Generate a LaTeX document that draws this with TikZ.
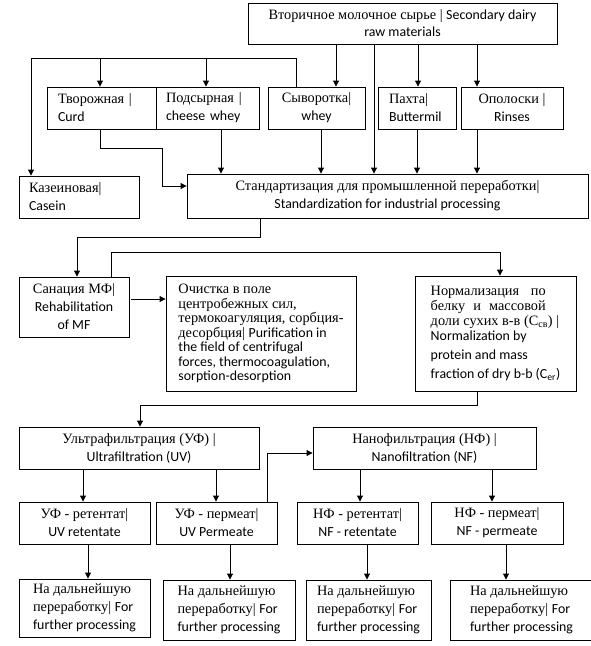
\documentclass[tikz,border=0pt]{standalone}
\usepackage{fontspec}
\setmainfont{Liberation Serif}
\newfontfamily\cb[Scale=0.97]{Carlito}
\usetikzlibrary{arrows.meta}
\tikzset{
  box/.style={draw, line width=0.9pt, inner sep=0pt, font=\fontsize{14.3}{18}\selectfont},
  cbox/.style={box, align=center},
  lbox/.style={box, align=left},
  arr/.style={line width=0.9pt, -{Triangle[length=6pt,width=6pt]}},
  ln/.style={line width=0.9pt}
}
\begin{document}
\begin{tikzpicture}[x=1pt,y=-1pt]
\useasboundingbox (0,0) rectangle (591,646);
% level 0
\node[cbox, minimum width=309, minimum height=41] (top) at (402.5,23.5)
  {Вторичное молочное сырье | {\cb Secondary dairy}\\[-1pt]{\cb raw materials}};
% level 1
\node[lbox, minimum width=109, minimum height=42, text width=87] (curd) at (101.5,108)
  {Творожная |\\{\cb Curd}};
\node[lbox, minimum width=103, minimum height=42, text width=83] (cheese) at (207.5,108)
  {Подсырная |\\{\cb cheese whey}};
\node[cbox, minimum width=97, minimum height=42] (whey) at (316.5,108)
  {Сыворотка|\\{\cb whey}};
\node[lbox, minimum width=78, minimum height=42, text width=56] (butter) at (417,108)
  {Пахта|\\{\cb Buttermil}};
\node[cbox, minimum width=102, minimum height=42] (rinses) at (512,108)
  {Ополоски |\\{\cb Rinses}};
% level 2
\node[lbox, minimum width=120, minimum height=42, text width=100] (casein) at (79,197)
  {Казеиновая|\\{\cb Casein}};
\node[cbox, minimum width=401, minimum height=44] (stand) at (387.5,196)
  {Стандартизация для промышленной переработки|\\{\cb Standardization for industrial processing}};
% level 3
\node[cbox, minimum width=110, minimum height=60] (san) at (74,307)
  {Санация МФ|\\{\cb Rehabilitation}\\{\cb of MF}};
\node[lbox, minimum width=190, minimum height=115,
  font=\fontsize{14.3}{14.5}\selectfont] (clean) at (261,333.5)
  {Очистка в поле\\центробежных сил,\\термокоагуляция, сорбция-\\десорбция| {\cb Purification in}\\{\cb the field of centrifugal}\\{\cb forces, thermocoagulation,}\\{\cb sorption-desorption}};
\node[lbox, minimum width=161, minimum height=115,
  font=\fontsize{14.3}{15}\selectfont] (norm) at (495.5,333.5)
  {\makebox[115pt][s]{Нормализация по}\\\makebox[115pt][s]{белку и массовой}\\доли сухих в-в (C\textsubscript{св}) |\\{\cb Normalization by}\\[4pt]{\cb protein and mass}\\[4pt]{\cb fraction of dry b-b (C\textsubscript{er})}};
% level 4
\node[cbox, minimum width=240, minimum height=42] (uf) at (139,448)
  {Ультрафильтрация (УФ) |\\{\cb Ultrafiltration (UV)}};
\node[cbox, minimum width=223, minimum height=42] (nf) at (424.5,448)
  {Нанофильтрация (НФ) |\\{\cb Nanofiltration (NF)}};
% level 5
\node[cbox, minimum width=131, minimum height=42] (uvret) at (84.5,523)
  {УФ - ретентат|\\{\cb UV retentate}};
\node[cbox, minimum width=121, minimum height=42] (uvperm) at (216.5,523)
  {УФ - пермеат|\\{\cb UV Permeate}};
\node[cbox, minimum width=121, minimum height=42] (nfret) at (357.5,523)
  {НФ - ретентат|\\{\cb NF - retentate}};
\node[cbox, minimum width=132, minimum height=42] (nfperm) at (497,523)
  {НФ - пермеат|\\{\cb NF - permeate}};
% level 6
\node[lbox, minimum width=131, minimum height=58] (f1) at (84.5,608)
  {На дальнейшую\\переработку| {\cb For}\\{\cb further processing}};
\node[lbox, minimum width=132, minimum height=60] (f2) at (229,610)
  {На дальнейшую\\переработку| {\cb For}\\{\cb further processing}};
\node[lbox, minimum width=125, minimum height=60] (f3) at (368.5,610)
  {На дальнейшую\\переработку| {\cb For}\\{\cb further processing}};
\node[lbox, minimum width=143, minimum height=60] (f4) at (521.5,610)
  {На дальнейшую\\переработку| {\cb For}\\{\cb further processing}};
% connectors from top
\draw[arr] (336,0 |- top.south) -- (336,0 |- whey.north);
\draw[arr] (418,0 |- top.south) -- (418,0 |- butter.north);
\draw[arr] (477,0 |- top.south) -- (477,0 |- rinses.north);
\draw[arr] (374,0 |- top.south) -- (374,0 |- stand.north);
% whey branch
\draw[arr] (296,0 |- whey.north) -- (296,58) -- (31,58) -- (31,0 |- casein.north);
\draw[arr] (100,58) -- (100,0 |- curd.north);
\draw[arr] (206,58) -- (206,0 |- cheese.north);
% to standardization
\draw[arr] (100,0 |- curd.south) -- (100,148) -- (162,148) -- (162,186) -- (stand.west |- 0,186);
\draw[arr] (221,0 |- cheese.south) -- (221,0 |- stand.north);
\draw[arr] (321,0 |- whey.south) -- (321,0 |- stand.north);
\draw[arr] (417,0 |- butter.south) -- (417,0 |- stand.north);
\draw[arr] (477,0 |- rinses.south) -- (477,0 |- stand.north);
% standardization to sanation
\draw[arr] (260,0 |- stand.south) -- (260,237) -- (77,237) -- (77,0 |- san.north);
\draw[arr] (111,0 |- san.north) -- (111,252) -- (500,252) -- (500,0 |- norm.north);
\draw[arr] (san.east |- 0,299) ++(2,0) -- (clean.west |- 0,299);
% normalization to UF
\draw[arr] (477,0 |- norm.south) -- (477,405) -- (140,405) -- (140,0 |- uf.north);
% UF / NF splits
\draw[arr] (83,0 |- uf.south) -- (83,0 |- uvret.north);
\draw[arr] (216,0 |- uf.south) -- (216,0 |- uvperm.north);
\draw[arr] (360,0 |- nf.south) -- (360,0 |- nfret.north);
\draw[arr] (492,0 |- nf.south) -- (492,0 |- nfperm.north);
\draw[arr] (267,0 |- uvperm.north) -- (267,453) -- (nf.west |- 0,453);
% to further processing
\draw[arr] (88,0 |- uvret.south) -- (88,0 |- f1.north);
\draw[arr] (230,0 |- uvperm.south) -- (230,0 |- f2.north);
\draw[arr] (367,0 |- nfret.south) -- (367,0 |- f3.north);
\draw[arr] (506,0 |- nfperm.south) -- (506,0 |- f4.north);
\end{tikzpicture}
\end{document}
